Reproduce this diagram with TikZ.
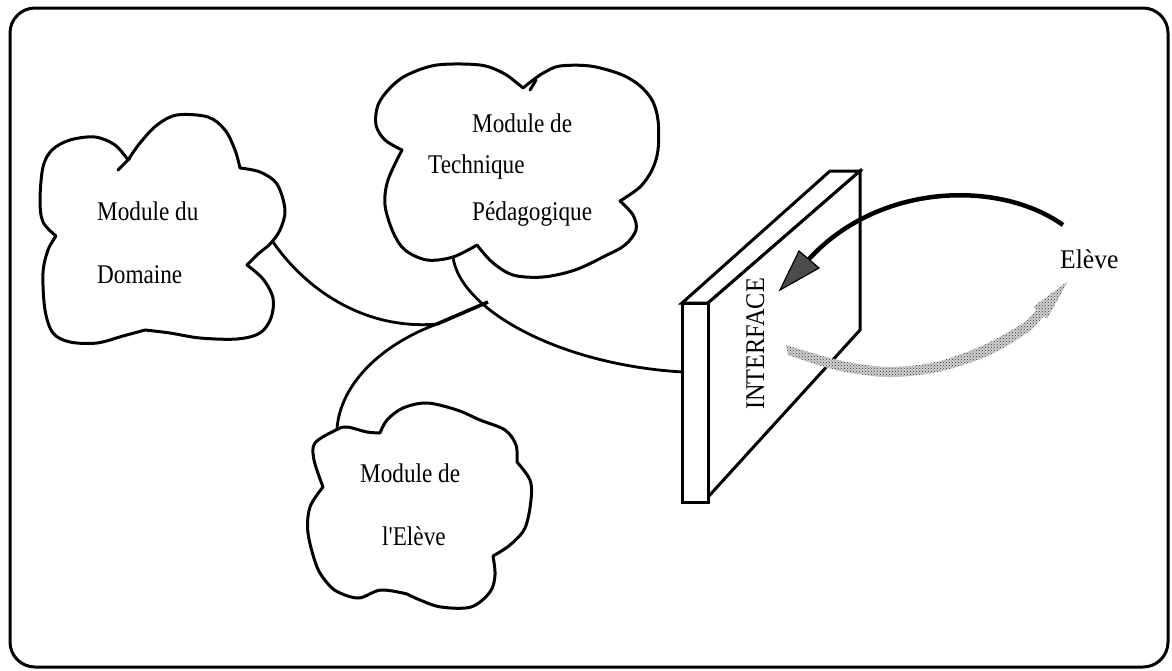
\documentclass[tikz,border=0pt]{standalone}
\usepackage{fontspec}
\setmainfont{Liberation Serif}[Ligatures=TeXOff]
\usetikzlibrary{patterns}
\begin{document}
\begin{tikzpicture}[x=1pt,y=-1pt,
  outline/.style={line width=3pt, line join=round, line cap=round},
  link/.style={line width=2.8pt, line cap=round},
  lbl/.style={inner sep=0pt, anchor=base west, font=\fontsize{27}{32}\selectfont, xscale=0.86}]
\useasboundingbox (0,0) rectangle (1172,670);
% frame
\draw[line width=3pt, rounded corners=25pt] (10,8) rectangle (1168,667);

% ---- cloud 1 : Module du Domaine
\draw[outline]
  plot[smooth,tension=.55] coordinates {(128,160) (140,143) (157,125) (177,115) (208,117) (225,130) (235,150) (240,168)}
  -- plot[smooth,tension=.55] coordinates {(240,168) (260,172) (277,184) (285,210) (280,230) (270,244) (258,254) (247,265)}
  -- plot[smooth,tension=.55] coordinates {(247,265) (263,279) (273,298) (271,318) (260,333) (237,339) (200,338) (170,333) (145,330)}
  -- plot[smooth,tension=.55] coordinates {(145,330) (123,336) (97,343) (70,342) (53,333) (45,310) (43,273) (48,250) (56,236)}
  -- plot[smooth,tension=.55] coordinates {(56,236) (43,222) (40,200) (43,167) (52,150) (70,140) (95,137) (115,145) (128,160)};
\draw[outline] (118,170) -- (130,158);

% ---- cloud 2 : Module de Technique Pedagogique
\draw[outline]
  plot[smooth,tension=.55] coordinates {(523,88) (533,80) (545,72) (560,66) (590,66) (620,74) (639,85) (652,100) (658,120) (658,150) (652,170) (640,187) (620,201)}
  -- plot[smooth,tension=.55] coordinates {(620,201) (633,215) (636,230) (625,245) (605,256) (575,270) (543,277) (513,275) (492,262) (477,245)}
  -- plot[smooth,tension=.55] coordinates {(477,245) (453,257) (427,260) (405,250) (393,232) (385,205) (388,180) (402,150)}
  -- plot[smooth,tension=.55] coordinates {(402,150) (385,140) (376,125) (378,105) (390,88) (407,75) (437,65) (480,65) (503,73) (517,83) (523,88)};
\draw[outline] (530,90) -- (536,80);

% ---- cloud 3 : Module de l'Eleve
\draw[outline]
  plot[smooth,tension=.55] coordinates {(380,433) (387,420) (403,408) (427,403) (457,410) (480,420) (505,430) (516,445) (517,462)}
  -- plot[smooth,tension=.55] coordinates {(517,462) (530,480) (531,500) (525,528) (510,545) (493,556)}
  -- plot[smooth,tension=.55] coordinates {(493,556) (495,575) (490,592) (471,607) (441,607) (420,600) (407,594)}
  -- plot[smooth,tension=.55] coordinates {(407,594) (381,590) (359,598) (340,593) (329,585) (317,567) (308,533) (310,507) (323,487)}
  -- plot[smooth,tension=.55] coordinates {(323,487) (314,460) (315,443) (336,430) (347,427) (367,432) (380,433)};

% ---- labels
\node[lbl] (md1) at (97,220) {Module du};
\node[lbl] (md2) at (97,283) {Domaine};
\node[lbl] (mt1) at (472,132) {Module de};
\node[lbl] (mt2) at (428,173) {Technique};
\node[lbl] (mt3) at (472,220) {Pédagogique};
\node[lbl] (me1) at (360,482) {Module de};
\node[lbl] (me2) at (382,545) {l'Elève};
\node[lbl, xscale=1.1] (eleve) at (1060,268) {Elève};

% ---- connection points
\coordinate (pDom) at (273,242);
\coordinate (pPed) at (453,257);
\coordinate (pElv) at (337,429);
\coordinate (merge) at (437,324);
\coordinate (J) at (488,302);
\coordinate (pInt) at (683,372);

% ---- interface slab
\draw[outline, line join=miter, fill=white] (682,303) -- (830,171) -- (860,171) -- (708,303) -- cycle;
\draw[outline, line join=miter, fill=white] (708,303) -- (860,171) -- (860,330) -- (708,497) -- cycle;
\draw[outline, line join=miter, fill=white] (682,303) rectangle (708,502);
\node[inner sep=0pt, anchor=base west, font=\fontsize{27}{32}\selectfont, rotate=90, xscale=0.9] (iface) at (764,410) {INTERFACE};

% ---- connectors
\draw[link] (pDom) .. controls (310,295) and (370,330) .. (merge);
\draw[link] (pElv) .. controls (340,385) and (380,345) .. (merge);
\draw[line width=3.6pt] (merge) -- (J);
\draw[link] (pPed) .. controls (460,310) and (560,365) .. (pInt);

% ---- grey stippled arrow (interface -> eleve)
\path[fill=black!18, postaction={pattern=crosshatch dots, pattern color=black!80}]
  plot[smooth] coordinates {(786,345) (838,360) (887,367) (936,362) (984,345) (1023,323) (1036,310)}
  -- (1033,307) -- (1068,281) -- (1047,319) -- (1044,316)
  -- plot[smooth] coordinates {(1030,331) (990,355) (938,372) (887,377) (836,370) (788,355)} -- cycle;

% ---- black arrow (eleve -> interface)
\coordinate (aStart) at (1063,225);
\coordinate (aEnd) at (809,259);
\draw[line width=4.5pt] (aStart) .. controls (1000,180) and (880,182) .. (aEnd);
\filldraw[fill=black!70, line width=1.2pt, line join=miter] (799,251) -- (780,290) -- (819,268) -- cycle;
\end{tikzpicture}
\end{document}
